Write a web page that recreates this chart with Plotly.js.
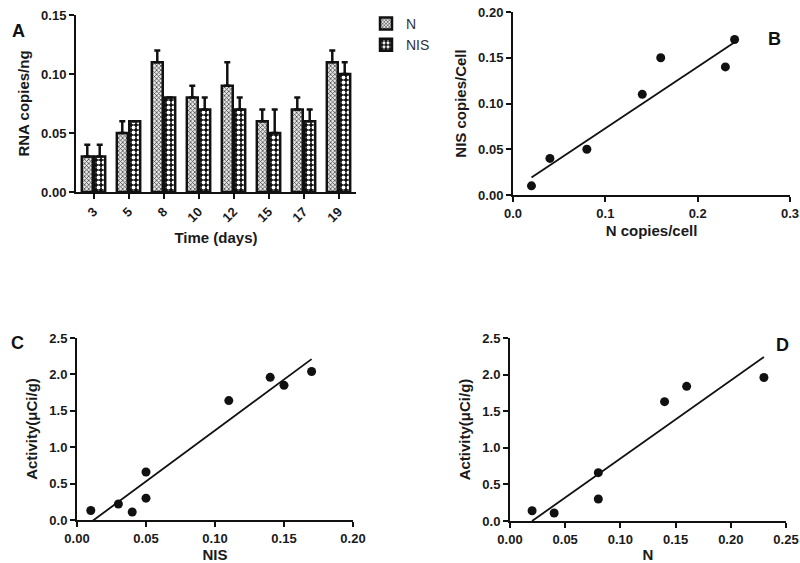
<!DOCTYPE html>
<html>
<head>
<meta charset="utf-8">
<script src="https://cdn.plot.ly/plotly-3.0.1.min.js"></script>
<style>html,body{margin:0;padding:0;background:#fff;}#chart{width:800px;height:563px;}</style>
</head>
<body>
<div id="chart"></div>
<script>
// Panel A data
const days = ['3', '5', '8', '10', '12', '15', '17', '19'];
const nValues = [0.03, 0.05, 0.11, 0.08, 0.09, 0.06, 0.07, 0.11];
const nErrors = [0.01, 0.01, 0.01, 0.01, 0.02, 0.01, 0.01, 0.01];
const nisValues = [0.03, 0.06, 0.08, 0.07, 0.07, 0.05, 0.06, 0.10];
const nisErrors = [0.01, 0.00, 0.00, 0.01, 0.01, 0.02, 0.01, 0.01];

// Panel B data
const bNCopies = [0.02, 0.04, 0.08, 0.14, 0.16, 0.23, 0.24];
const bNISCopies = [0.01, 0.04, 0.05, 0.11, 0.15, 0.14, 0.17];
const bFitX = [0.02, 0.24];
const bFitY = [0.019, 0.167];

// Panel C data
const cNIS = [0.01, 0.03, 0.04, 0.05, 0.05, 0.11, 0.14, 0.15, 0.17];
const cActivity = [0.13, 0.22, 0.11, 0.66, 0.30, 1.64, 1.96, 1.85, 2.04];
const cFitX = [0.01, 0.17];
const cFitY = [-0.03, 2.21];

// Panel D data
const dN = [0.02, 0.04, 0.08, 0.08, 0.14, 0.16, 0.23];
const dActivity = [0.14, 0.11, 0.66, 0.30, 1.63, 1.84, 1.96];
const dFitX = [0.02, 0.23];
const dFitY = [0.0, 2.24];

const W = 800, H = 563;
const px = v => v / W;
const py = v => 1 - v / H;

const FONT = 'Liberation Sans, Arial, sans-serif';
const INK = '#111';

function axisBase(extra) {
  return Object.assign({
    showline: true, linecolor: INK, linewidth: 2,
    ticks: 'outside', ticklen: 5, tickwidth: 2, tickcolor: INK,
    showgrid: false, zeroline: false, fixedrange: true,
    tickfont: {family: FONT, size: 13, color: '#1a1a1a', weight: 'bold'}
  }, extra);
}
function titleObj(text, standoff) {
  return {text: text, standoff: standoff, font: {family: FONT, size: 15, color: '#1a1a1a', weight: 'bold'}};
}

const dot = {color: INK, size: 9};
const fitLine = {color: INK, width: 1.8};

const traces = [
  {
    type: 'bar', name: 'N', x: days, y: nValues, xaxis: 'x', yaxis: 'y',
    marker: {color: '#ffffff', line: {color: INK, width: 2.5},
      pattern: {shape: 'x', size: 3, solidity: 0.4, fgcolor: '#333', bgcolor: '#e8e8e8', fillmode: 'replace'}},
    error_y: {type: 'data', symmetric: false, array: nErrors, arrayminus: nErrors.map(() => 0), color: INK, thickness: 2.5, width: 3}
  },
  {
    type: 'bar', name: 'NIS', x: days, y: nisValues, xaxis: 'x', yaxis: 'y',
    marker: {color: '#ffffff', line: {color: INK, width: 2.5},
      pattern: {shape: '.', size: 5, solidity: 0.45, fgcolor: '#ffffff', bgcolor: '#111', fillmode: 'replace'}},
    error_y: {type: 'data', symmetric: false, array: nisErrors, arrayminus: nisErrors.map(() => 0), color: INK, thickness: 2.5, width: 3}
  },
  {type: 'scatter', mode: 'markers', x: bNCopies, y: bNISCopies, xaxis: 'x2', yaxis: 'y2', marker: dot, showlegend: false, cliponaxis: false},
  {type: 'scatter', mode: 'lines', x: bFitX, y: bFitY, xaxis: 'x2', yaxis: 'y2', line: fitLine, showlegend: false},
  {type: 'scatter', mode: 'markers', x: cNIS, y: cActivity, xaxis: 'x3', yaxis: 'y3', marker: dot, showlegend: false, cliponaxis: false},
  {type: 'scatter', mode: 'lines', x: cFitX, y: cFitY, xaxis: 'x3', yaxis: 'y3', line: fitLine, showlegend: false},
  {type: 'scatter', mode: 'markers', x: dN, y: dActivity, xaxis: 'x4', yaxis: 'y4', marker: dot, showlegend: false, cliponaxis: false},
  {type: 'scatter', mode: 'lines', x: dFitX, y: dFitY, xaxis: 'x4', yaxis: 'y4', line: fitLine, showlegend: false}
];

const layout = {
  width: W, height: H,
  margin: {l: 0, r: 0, t: 0, b: 0},
  paper_bgcolor: '#fff', plot_bgcolor: '#fff',
  barmode: 'group', bargap: 0.29, bargroupgap: 0.12,
  showlegend: true,
  legend: {x: px(366), y: py(8), xanchor: 'left', yanchor: 'top', itemwidth: 30,
    font: {family: FONT, size: 14, color: '#333'}, bgcolor: 'rgba(0,0,0,0)', tracegroupgap: 4},
  xaxis: axisBase({domain: [px(76), px(356)], anchor: 'y', type: 'category', tickangle: -45,
    title: titleObj('Time (days)', 8)}),
  yaxis: axisBase({domain: [py(192), py(15)], anchor: 'x', range: [0, 0.15], dtick: 0.05, tickformat: '.2f',
    title: titleObj('RNA copies/ng', 8)}),
  xaxis2: axisBase({domain: [px(513), px(790)], anchor: 'y2', range: [0, 0.3], dtick: 0.1, tickformat: '.1f',
    title: titleObj('N copies/cell', 6)}),
  yaxis2: axisBase({domain: [py(195), py(12)], anchor: 'x2', range: [0, 0.2], dtick: 0.05, tickformat: '.2f',
    title: titleObj('NIS copies/Cell', 8)}),
  xaxis3: axisBase({domain: [px(77), px(353)], anchor: 'y3', range: [0, 0.2], dtick: 0.05, tickformat: '.2f',
    title: titleObj('NIS', 6)}),
  yaxis3: axisBase({domain: [py(520), py(338)], anchor: 'x3', range: [0, 2.5], dtick: 0.5, tickformat: '.1f',
    title: titleObj('Activity(μCi/g)', 8)}),
  xaxis4: axisBase({domain: [px(510), px(786)], anchor: 'y4', range: [0, 0.25], dtick: 0.05, tickformat: '.2f',
    title: titleObj('N', 6)}),
  yaxis4: axisBase({domain: [py(521), py(338)], anchor: 'x4', range: [0, 2.5], dtick: 0.5, tickformat: '.1f',
    title: titleObj('Activity(μCi/g)', 8)}),
  annotations: [
    {text: 'A', x: px(10), y: py(19), xref: 'paper', yref: 'paper', showarrow: false, font: {family: FONT, size: 18, color: '#111', weight: 'bold'}},
    {text: 'B', x: px(783), y: py(27), xref: 'paper', yref: 'paper', showarrow: false, font: {family: FONT, size: 18, color: '#111', weight: 'bold'}},
    {text: 'C', x: px(9), y: py(343), xref: 'paper', yref: 'paper', showarrow: false, font: {family: FONT, size: 18, color: '#111', weight: 'bold'}},
    {text: 'D', x: px(791), y: py(345), xref: 'paper', yref: 'paper', showarrow: false, font: {family: FONT, size: 18, color: '#111', weight: 'bold'}}
  ]
};

Plotly.newPlot('chart', traces, layout, {staticPlot: true, displayModeBar: false});
</script>
</body>
</html>
